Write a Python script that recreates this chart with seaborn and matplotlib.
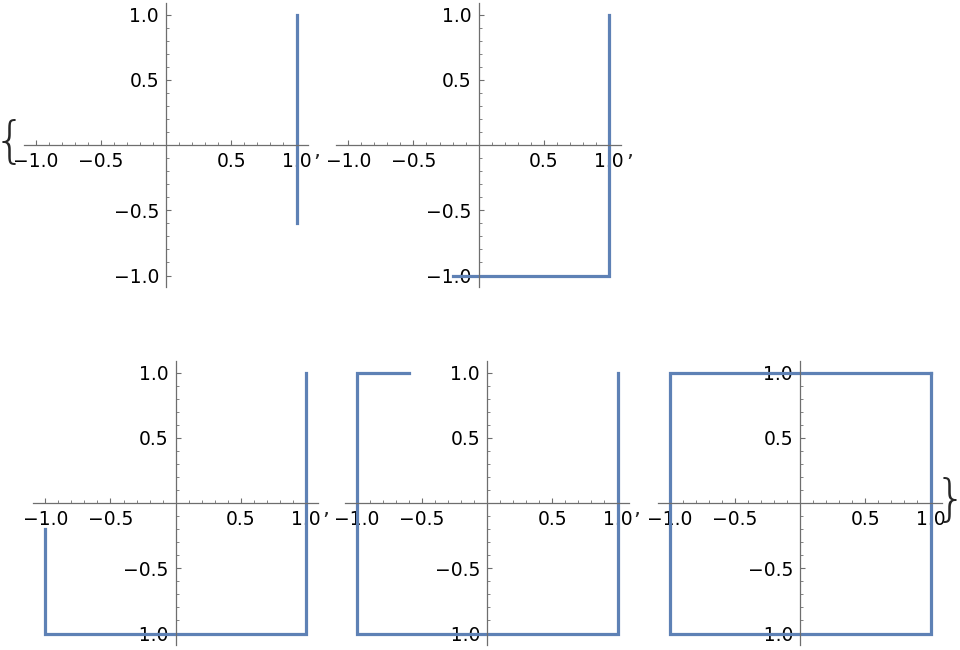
import numpy as np
import seaborn as sns
import matplotlib.pyplot as plt

sns.set_style("white")
plt.rcParams['font.family'] = ['DejaVu Sans']

# the path drawn so far in each of the five frames
path1_x = [1, 1]
path1_y = [1, -0.6]
path2_x = [1, 1, -0.2]
path2_y = [1, -1, -1]
path3_x = [1, 1, -1, -1]
path3_y = [1, -1, -1, -0.2]
path4_x = [1, 1, -1, -1, -0.6]
path4_y = [1, -1, -1, 1, 1]
path5_x = [1, 1, -1, -1, 1]
path5_y = [1, -1, -1, 1, 1]

tick_vals = [-1.0, -0.5, 0.5, 1.0]
tick_labels = ["\u22121.0", "\u22120.5", "0.5", "1.0"]
minor_vals = [-0.9, -0.8, -0.7, -0.6, -0.4, -0.3, -0.2, -0.1,
              0.1, 0.2, 0.3, 0.4, 0.6, 0.7, 0.8, 0.9]

paths = [(path1_x, path1_y), (path2_x, path2_y), (path3_x, path3_y),
         (path4_x, path4_y), (path5_x, path5_y)]

# origin of each panel in pixels
centers = [(166, 145), (478.7, 145), (175.7, 503), (487, 503), (800, 503)]

W, H = 960, 650
lim = 1.09
scale = 130.5
half = lim * scale
axis_col = "#6e6e6e"
line_col = "#5E81B5"

fig = plt.figure(figsize=(W / 100, H / 100), dpi=100)

for (px, py), (cx, cy) in zip(paths, centers):
    ax = fig.add_axes([(cx - half) / W, 1 - (cy + half) / H, 2 * half / W, 2 * half / H])
    ax.patch.set_alpha(0)
    sns.lineplot(x=px, y=py, sort=False, estimator=None, ax=ax, color=line_col,
                 linewidth=2.3, solid_joinstyle='miter', solid_capstyle='projecting')
    ax.set_xlim(-lim, lim)
    ax.set_ylim(-lim, lim)
    for s in ['top', 'right']:
        ax.spines[s].set_visible(False)
    for s in ['left', 'bottom']:
        ax.spines[s].set_position(('data', 0))
        ax.spines[s].set_color(axis_col)
        ax.spines[s].set_linewidth(0.9)
    ax.set_xticks(tick_vals)
    ax.set_xticklabels(tick_labels)
    ax.set_yticks(tick_vals)
    ax.set_yticklabels(tick_labels)
    ax.set_xticks(minor_vals, minor=True)
    ax.set_yticks(minor_vals, minor=True)
    ax.tick_params(which='both', bottom=True, left=True, top=False, right=False)
    ax.tick_params(which='major', direction='in', length=3.4, width=0.8, color=axis_col,
                   labelsize=13.5, labelcolor='black', pad=5)
    ax.tick_params(which='minor', direction='in', length=2.0, width=0.6, color=axis_col)
    ax.set_xlabel("")
    ax.set_ylabel("")

# list punctuation around the frames
fig.text(10 / W, 1 - 143 / H, "{", fontsize=36, ha='center', va='center', fontweight=200)
fig.text(950 / W, 1 - 501 / H, "}", fontsize=36, ha='center', va='center', fontweight=200)
for x, y in [(317, 151), (630, 151), (326, 509), (637, 509)]:
    fig.text(x / W, 1 - y / H, ",", fontsize=16, ha='center', va='center')

fig.savefig("out.png", dpi=100)
